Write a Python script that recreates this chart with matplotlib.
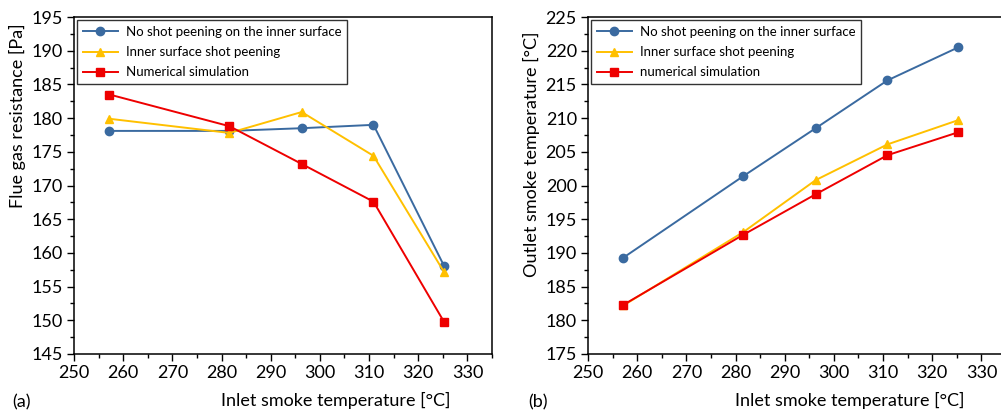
import numpy as np
import matplotlib.pyplot as plt
from matplotlib.ticker import MultipleLocator

plt.rcParams['font.family'] = ['Lato', 'DejaVu Sans']

inlet_temp = [257.2, 281.6, 296.3, 310.9, 325.3]

# (a) flue gas resistance [Pa]
res_no_peen = [178.1, 178.1, 178.5, 179.0, 158.0]
res_peen = [179.9, 177.8, 180.9, 174.4, 157.1]
res_sim = [183.5, 178.8, 173.2, 167.6, 149.7]

# (b) outlet smoke temperature [°C]
out_no_peen = [189.3, 201.4, 208.5, 215.6, 220.5]
out_peen = [182.2, 193.1, 200.8, 206.1, 209.7]
out_sim = [182.3, 192.7, 198.7, 204.5, 207.9]

blue = '#3a6aa0'
yellow = '#ffc000'
red = '#ee0000'

W, H = 1001, 412
fig = plt.figure(figsize=(W / 100, H / 100), dpi=100)
ax1 = fig.add_axes([74 / W, 1 - 354 / H, (492 - 74) / W, (354 - 17) / H])
ax2 = fig.add_axes([588 / W, 1 - 354 / H, (1006 - 588) / W, (354 - 17) / H])


def style(ax, ylo, yhi):
    ax.set_xlim(250, 335)
    ax.set_ylim(ylo, yhi)
    ax.xaxis.set_major_locator(MultipleLocator(10))
    ax.xaxis.set_minor_locator(MultipleLocator(5))
    ax.yaxis.set_major_locator(MultipleLocator(5))
    ax.yaxis.set_minor_locator(MultipleLocator(2.5))
    ax.tick_params(which='major', direction='out', length=5, width=1, labelsize=13, pad=3)
    ax.tick_params(which='minor', direction='out', length=3, width=1)
    for s in ax.spines.values():
        s.set_linewidth(1.1)
    ax.set_xlabel('Inlet smoke temperature [°C]', fontsize=13, va='center')
    ax.xaxis.set_label_coords(0.627, -0.137)


mk = dict(markersize=6, linewidth=1.4)

ax1.plot(inlet_temp, res_no_peen, '-o', color=blue, label='No shot peening on the inner surface', **mk)
ax1.plot(inlet_temp, res_peen, '-^', color=yellow, label='Inner surface shot peening', **mk)
ax1.plot(inlet_temp, res_sim, '-s', color=red, label='Numerical simulation', **mk)
style(ax1, 145, 195)
ax1.set_ylabel('Flue gas resistance [Pa]', fontsize=13, va='center')
ax1.yaxis.set_label_coords(-0.134, 0.706)

ax2.plot(inlet_temp, out_no_peen, '-o', color=blue, label='No shot peening on the inner surface', **mk)
ax2.plot(inlet_temp, out_peen, '-^', color=yellow, label='Inner surface shot peening', **mk)
ax2.plot(inlet_temp, out_sim, '-s', color=red, label='numerical simulation', **mk)
style(ax2, 175, 225)
ax2.set_ylabel('Outlet smoke temperature [°C]', fontsize=13, va='center')
ax2.yaxis.set_label_coords(-0.134, 0.593)

for ax in (ax1, ax2):
    leg = ax.legend(loc='upper left', bbox_to_anchor=(0.005, 0.995), fontsize=9.5,
                    frameon=True, fancybox=False, edgecolor='black',
                    handlelength=2.6, borderpad=0.45, labelspacing=0.62,
                    handletextpad=0.6, borderaxespad=0.1)
    leg.get_frame().set_linewidth(1.0)

fig.text(12 / W, 1 - 402 / H, '(a)', fontsize=13, va='center')
fig.text(528 / W, 1 - 402 / H, '(b)', fontsize=13, va='center')

fig.savefig('out.png', dpi=100)
